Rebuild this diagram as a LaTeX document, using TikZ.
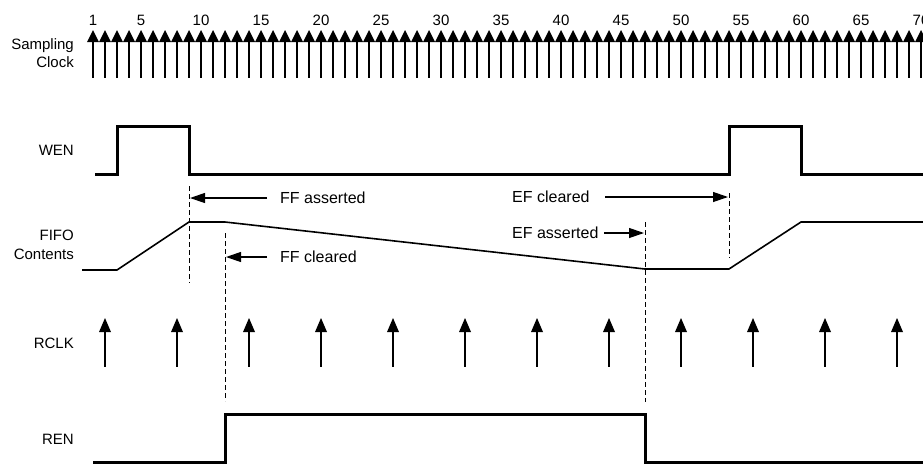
\documentclass[tikz,border=0pt]{standalone}
\usepackage{fontspec}
\setmainfont{Liberation Sans}
\usetikzlibrary{arrows.meta}
\begin{document}
\begin{tikzpicture}[x=1pt,y=-1pt,
  lbl/.style={font=\fontsize{15}{18.5}\selectfont, inner sep=0pt},
  notelbl/.style={font=\fontsize{16}{19}\selectfont, inner sep=0pt},
  sig/.style={line width=3pt, line join=miter},
  fifo/.style={line width=1.6pt, line join=miter},
  guide/.style={line width=0.9pt, dash pattern=on 5pt off 3pt},
  note/.style={line width=1.2pt, -{Triangle[length=15pt,width=10pt]}},
  clk/.style={line width=1.6pt}]
\useasboundingbox (0,0) rectangle (923,464);

% Sampling clock
\foreach \n in {1,...,70} {
  \pgfmathsetmacro\xx{81+12*\n}
  \fill (\xx-6,42) -- (\xx,30) -- (\xx+6,42) -- cycle;
  \draw[clk] (\xx,42) -- (\xx,78);
}
\node[lbl] (n1) at (93,20) {1};
\foreach \n in {5,10,...,70} {
  \pgfmathsetmacro\xx{81+12*\n}
  \node[lbl] (n\n) at (\xx,20) {\n};
}

% labels
\node[lbl, anchor=east, align=right] (lsamp) at (74,53) {Sampling\\Clock};
\node[lbl, anchor=east] (lwen) at (74,150) {WEN};
\node[lbl, anchor=east, align=right] (lfifo) at (74,245) {FIFO\\Contents};
\node[lbl, anchor=east] (lrclk) at (74,343) {RCLK};
\node[lbl, anchor=east] (lren) at (74,439) {REN};

% WEN
\draw[sig] (95,174) -- (117,174) -- (117,126) -- (189,126) -- (189,174)
  -- (729,174) -- (729,126) -- (801,126) -- (801,174) -- (930,174);

% FIFO contents
\draw[fifo] (82,270) -- (117,270) -- (189,222) -- (225,222) -- (645,269)
  -- (729,269) -- (801,222) -- (930,222);

% RCLK
\foreach \k in {0,...,11} {
  \pgfmathsetmacro\xx{105+72*\k}
  \fill (\xx-6,332) -- (\xx,318) -- (\xx+6,332) -- cycle;
  \draw[clk] (\xx,332) -- (\xx,367);
}

% REN
\draw[sig] (93,462) -- (225,462) -- (225,414) -- (645,414) -- (645,462) -- (930,462);

% guides
\coordinate (g1t) at (189,186); \coordinate (g1b) at (189,283);
\coordinate (g2t) at (225,233); \coordinate (g2b) at (225,401);
\coordinate (g3t) at (645,222); \coordinate (g3b) at (645,402);
\coordinate (g4t) at (729,193); \coordinate (g4b) at (729,258);
\draw[guide] (g1t) -- (g1b);
\draw[guide] (g2t) -- (g2b);
\draw[guide] (g3t) -- (g3b);
\draw[guide] (g4t) -- (g4b);

% notes
\node[notelbl, anchor=west] (ffa) at (280,198) {FF asserted};
\node[notelbl, anchor=west] (ffc) at (280,257) {FF cleared};
\node[notelbl, anchor=west] (efc) at (512,197) {EF cleared};
\node[notelbl, anchor=west] (efa) at (512,233) {EF asserted};
\coordinate (ffaT) at (267,198); \coordinate (ffaH) at (190,198);
\coordinate (ffcT) at (267,257); \coordinate (ffcH) at (226,257);
\coordinate (efcT) at (605,197); \coordinate (efcH) at (728,197);
\coordinate (efaT) at (604,233); \coordinate (efaH) at (644,233);
\draw[note] (ffaT) -- (ffaH);
\draw[note] (ffcT) -- (ffcH);
\draw[note] (efcT) -- (efcH);
\draw[note] (efaT) -- (efaH);
\end{tikzpicture}
\end{document}
